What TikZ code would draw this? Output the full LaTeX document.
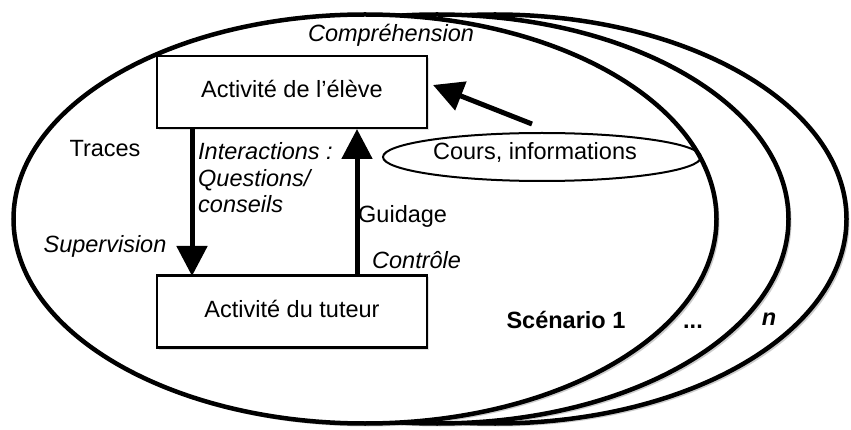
\documentclass[tikz,border=0pt]{standalone}
\usepackage{fontspec}
\setmainfont{Liberation Sans}
\usetikzlibrary{arrows.meta,shapes.geometric,shadows}
\begin{document}
\begin{tikzpicture}[x=1pt,y=-1pt,
  every node/.style={font=\fontsize{23.5}{26.5}\selectfont, inner sep=0pt},
  scen/.style={ellipse, draw, line width=4.5pt, fill=white,
    minimum width=703pt, minimum height=409pt, inner sep=0pt,
    drop shadow={shadow xshift=3pt, shadow yshift=-3pt, fill=black, opacity=0.2}},
  box/.style={draw, line width=2.8pt, fill=white, minimum width=270pt,
    minimum height=72pt, inner sep=0pt,
    drop shadow={shadow xshift=2pt, shadow yshift=-2pt, fill=black, opacity=0.12}},
  arr/.style={line width=5pt, -{Triangle[length=30pt,width=30pt]}},
  lab/.style={anchor=base},
  labw/.style={anchor=base west},
]
\useasboundingbox (0,0) rectangle (851,430);
% scenario ellipses (back to front)
\node[scen] (s3) at (495,219) {};
\node[scen] (s2) at (437,219) {};
\node[scen] (s1) at (365,219) {};
% boxes
\node[box] (eleve) at (292,92) {};
\node[box] (tuteur) at (292,311.5) {};
\node[lab] (televe) at (292,98) {Activité de l’élève};
\node[lab] (ttuteur) at (292,317) {Activité du tuteur};
% course ellipse
\node[ellipse, draw, line width=2pt, minimum width=318pt, minimum height=48pt] (cours) at (542,157) {};
\node[lab] (tcours) at (535,160) {Cours, informations};
% arrows
\coordinate (dtop) at (192,129);
\coordinate (dbot) at (192,276);
\coordinate (utop) at (357,129);
\coordinate (ubot) at (357,276);
\coordinate (ctail) at (532,124);
\coordinate (ctip) at (433,85);
\draw[arr] (dtop) -- (dbot);
\draw[arr] (ubot) -- (utop);
\draw[arr] (ctail) -- (ctip);
% labels
\node[lab] (compr) at (391,42) {\itshape Compréhension};
\node[lab] (traces) at (105,157) {Traces};
\node[lab] (superv) at (105,253) {\itshape Supervision};
\node[labw] (inter1) at (198,160) {\itshape Interactions :};
\node[labw] (inter2) at (198,187) {\itshape Questions/};
\node[labw] (inter3) at (198,213) {\itshape conseils};
\node[labw] (guid) at (358,223) {Guidage};
\node[labw] (contr) at (372,269) {\itshape Contrôle};
\node[lab] (scen1) at (566,328) {\bfseries Scénario 1};
\node[lab] (dots) at (693,328) {\bfseries ...};
\node[lab] (nn) at (769,325) {\bfseries\itshape n};
\end{tikzpicture}
\end{document}
